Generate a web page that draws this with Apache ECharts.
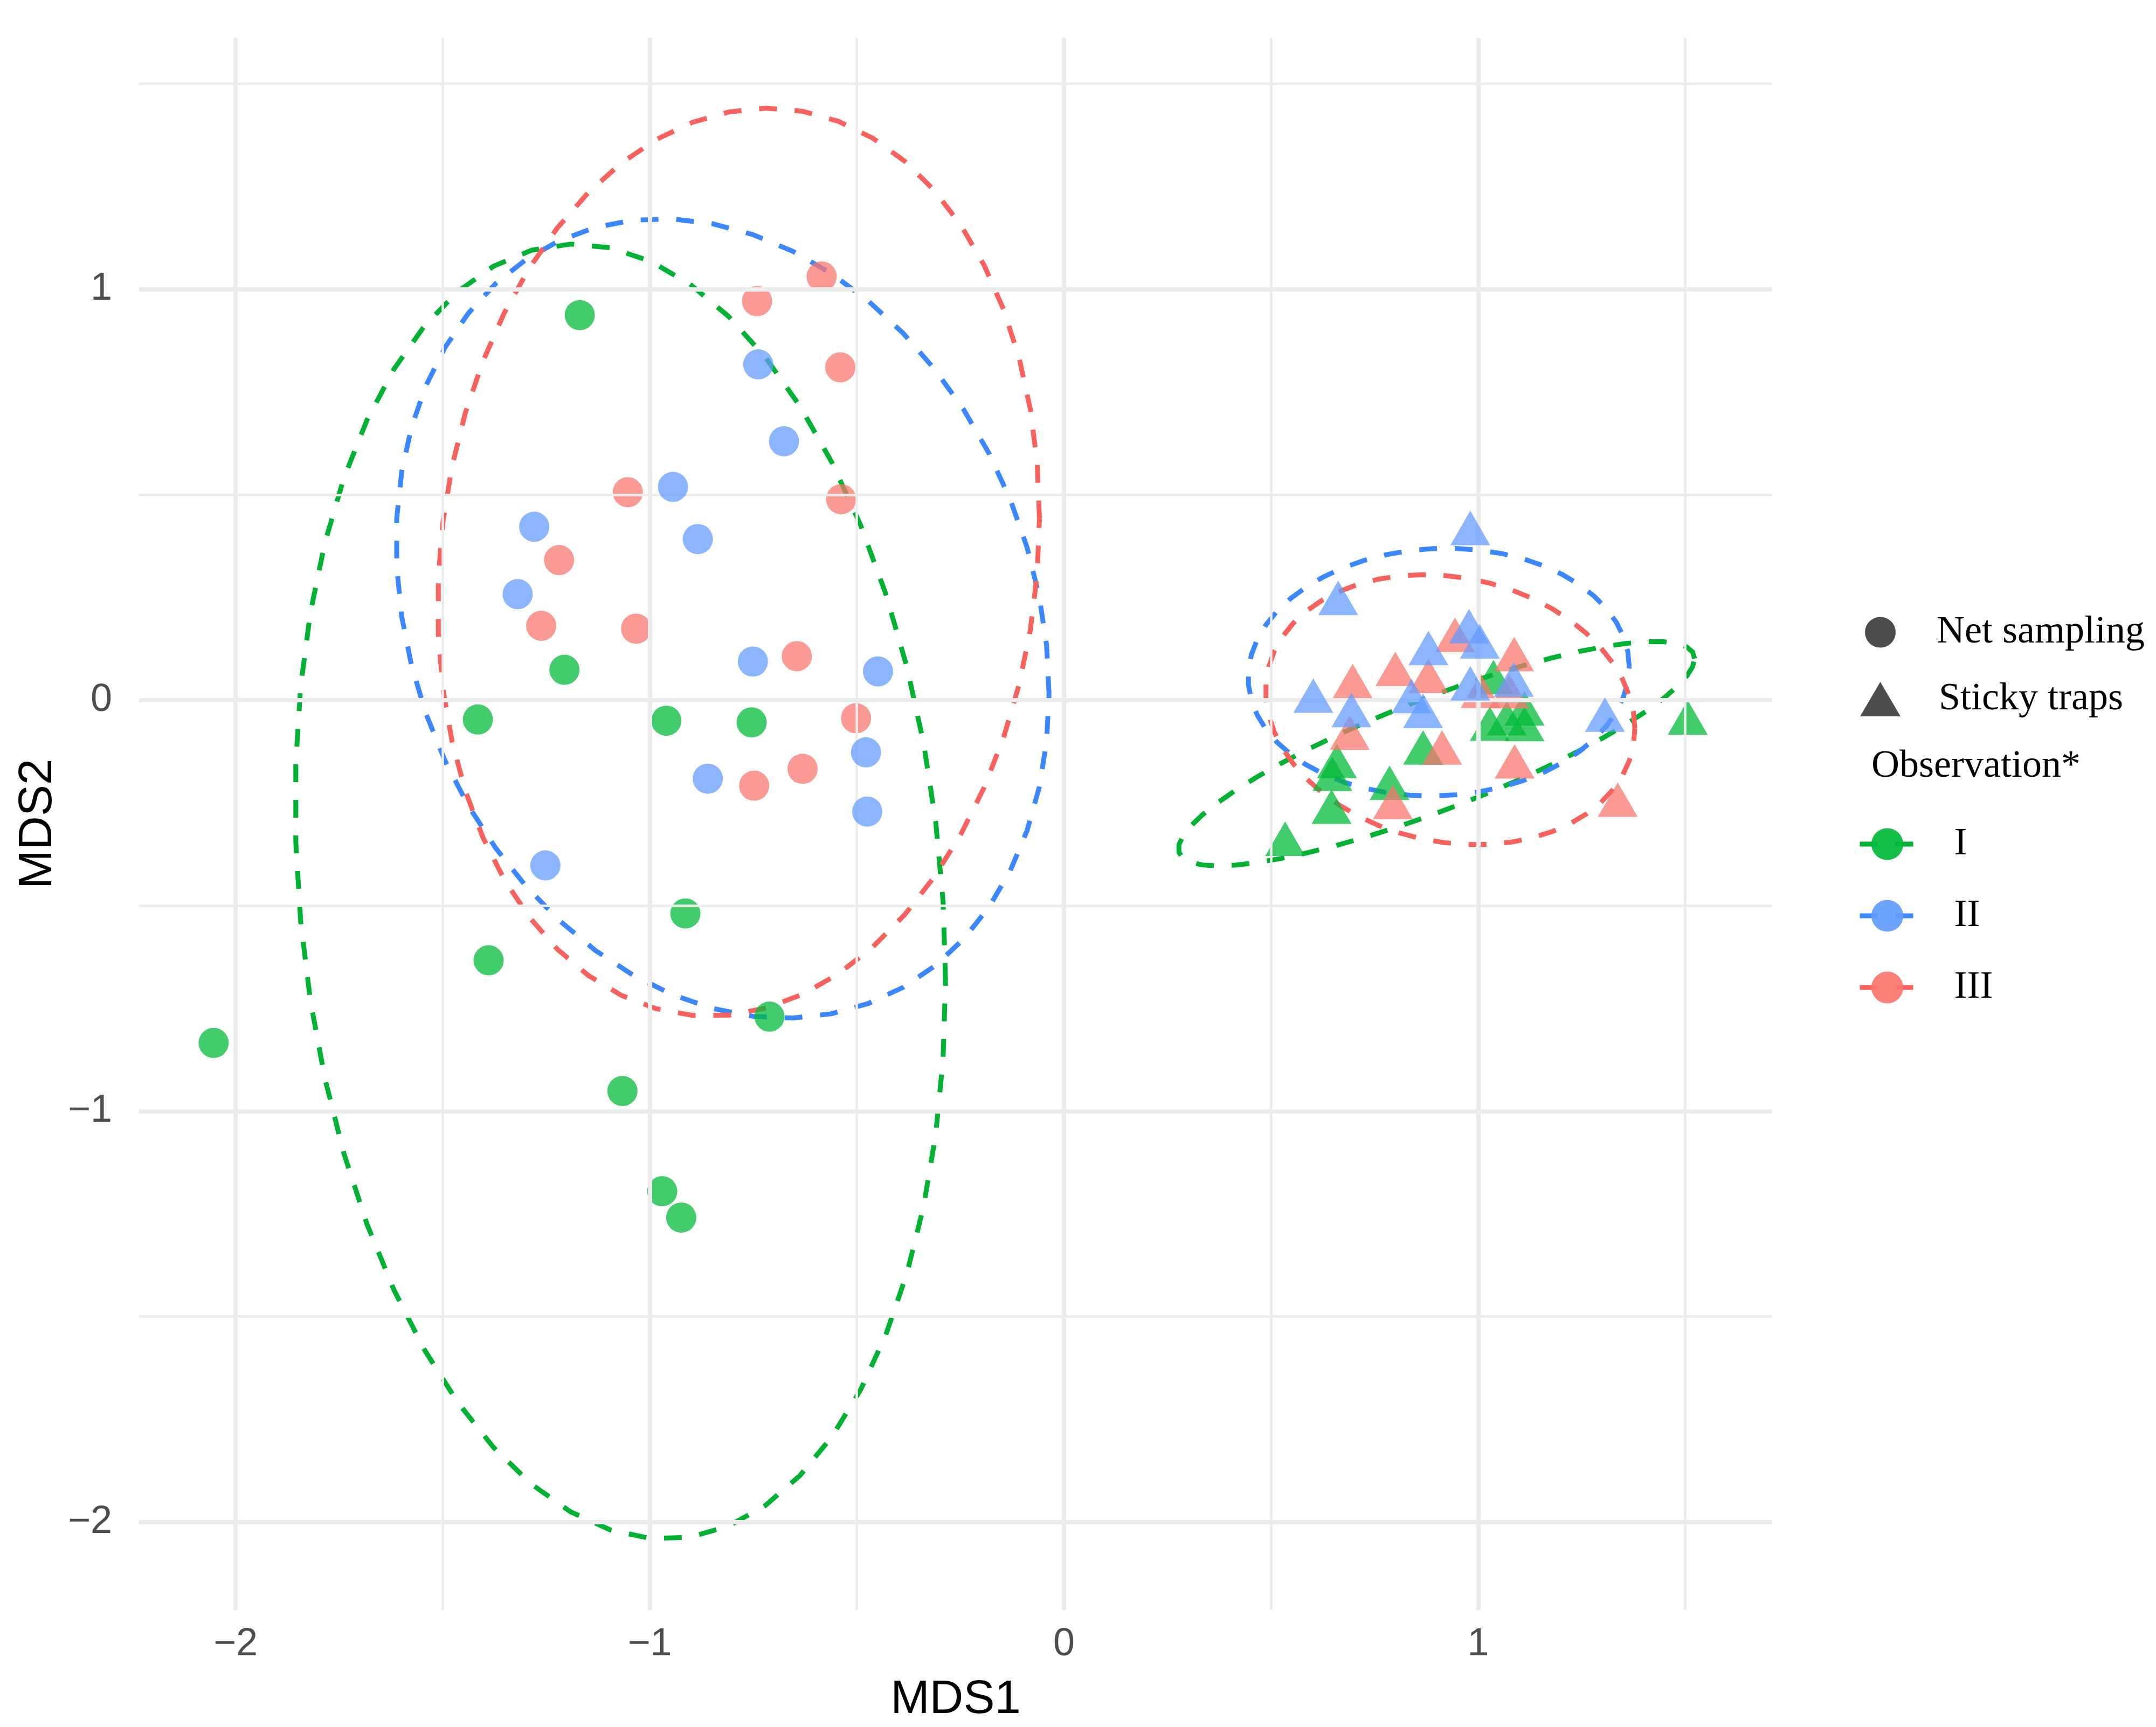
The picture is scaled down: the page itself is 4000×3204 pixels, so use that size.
<!DOCTYPE html>
<html lang="en">
<head>
    <meta charset="UTF-8">
    <title>NMDS – net sampling vs sticky traps</title>
    <script src="https://cdn.jsdelivr.net/npm/echarts@6/dist/echarts.min.js"></script>
    <style>
        html, body { margin: 0; padding: 0; background: #fff; }
        #nmds-chart { width: 4000px; height: 3204px; }
    </style>
</head>
<body>
    <div id="nmds-chart"></div>

    <script>
        // NMDS scores (MDS1, MDS2)
        const netI = [[-1.169, 0.937], [-1.206, 0.074], [-1.415, -0.047], [-0.960, -0.050], [-0.754, -0.054], [-0.914, -0.519],
                      [-1.389, -0.633], [-0.711, -0.770], [-2.053, -0.834], [-1.066, -0.951], [-0.970, -1.195], [-0.924, -1.259]];
        const netII = [[-0.738, 0.817], [-0.676, 0.630], [-0.944, 0.519], [-1.279, 0.422], [-0.884, 0.392], [-1.319, 0.258],
                       [-0.751, 0.094], [-0.449, 0.070], [-0.478, -0.127], [-0.860, -0.191], [-0.475, -0.271], [-1.252, -0.402]];
        const netIII = [[-0.585, 1.031], [-0.741, 0.971], [-0.540, 0.810], [-1.053, 0.506], [-0.538, 0.489], [-1.219, 0.341],
                        [-1.262, 0.181], [-1.033, 0.174], [-0.645, 0.107], [-0.502, -0.044], [-0.631, -0.167], [-0.748, -0.208]];
        const stickyI = [[1.037, 0.042], [1.112, -0.034], [1.069, -0.058], [1.028, -0.071], [1.112, -0.072], [1.506, -0.056],
                         [0.867, -0.129], [0.659, -0.162], [0.648, -0.193], [0.786, -0.215], [0.646, -0.273], [0.534, -0.351]];
        const stickyII = [[0.662, 0.235], [0.981, 0.405], [0.978, 0.166], [1.004, 0.129], [0.880, 0.113], [0.602, -0.003],
                          [0.981, 0.027], [1.086, 0.036], [0.839, -0.004], [0.694, -0.038], [0.867, -0.040], [1.306, -0.049]];
        const stickyIII = [[0.944, 0.145], [1.087, 0.098], [0.800, 0.062], [0.880, 0.045], [0.697, 0.033], [1.006, 0.009],
                           [1.075, 0.008], [0.690, -0.093], [0.913, -0.129], [1.088, -0.163], [1.337, -0.256], [0.794, -0.262]];

        const groups = ['I', 'II', 'III'];
        const methods = ['Net sampling', 'Sticky traps'];

        const xTicks = [-2, -1, 0, 1];
        const yTicks = [-2, -1, 0, 1];
        const xMinor = [-1.5, -0.5, 0.5, 1.5];
        const yMinor = [-1.5, -0.5, 0.5, 1.5];
        const xRange = [-2.233, 1.710];
        const yRange = [-2.214, 1.612];

        const pointColor = { I: 'rgba(0,186,56,0.92)', II: 'rgba(97,156,255,0.92)', III: 'rgba(248,118,109,0.92)' };
        const lineColor = { I: '#00B232', II: '#3B87FF', III: '#F8615C' };

        const sets = {
            'Net sampling': { I: netI, II: netII, III: netIII },
            'Sticky traps': { I: stickyI, II: stickyII, III: stickyIII }
        };

        // stat_ellipse(type = "t", level = 0.95): MASS::cov.trob + chol, 51 segments
        function covTrob(pts, nu = 5, maxit = 25, tol = 0.01) {
            const n = pts.length, p = 2;
            const wmean = w => {
                const sw = w.reduce((a, b) => a + b, 0);
                return [0, 1].map(k => pts.reduce((a, d, i) => a + w[i] * d[k], 0) / sw);
            };
            let w = pts.map(() => 1);
            let loc = wmean(w);
            let X = [];
            for (let iter = 0; iter < maxit; iter++) {
                const w0 = w.slice();
                X = pts.map(d => [d[0] - loc[0], d[1] - loc[1]]);
                const sw = w.reduce((a, b) => a + b, 0);
                let a = 0, b = 0, c = 0;
                X.forEach((d, i) => {
                    const f = w[i] / sw;
                    a += f * d[0] * d[0]; b += f * d[0] * d[1]; c += f * d[1] * d[1];
                });
                const det = a * c - b * b;
                w = X.map(d => {
                    const q = (c * d[0] * d[0] - 2 * b * d[0] * d[1] + a * d[1] * d[1]) / det;
                    return (nu + p) / (nu + q);
                });
                loc = wmean(w);
                if (w.every((v, i) => Math.abs(v - w0[i]) < tol)) break;
            }
            let s11 = 0, s12 = 0, s22 = 0;
            X.forEach((d, i) => {
                s11 += w[i] * d[0] * d[0]; s12 += w[i] * d[0] * d[1]; s22 += w[i] * d[1] * d[1];
            });
            return { center: loc, cov: [s11 / n, s12 / n, s22 / n] };
        }

        function statEllipse(pts, level = 0.95, segments = 51) {
            const v = covTrob(pts);
            const r11 = Math.sqrt(v.cov[0]);
            const r12 = v.cov[1] / r11;
            const r22 = Math.sqrt(v.cov[2] - r12 * r12);
            const dfd = pts.length - 1;
            const fq = dfd / 2 * (Math.pow(1 - level, -2 / dfd) - 1);   // qf(level, 2, dfd)
            const radius = Math.sqrt(2 * fq);
            const out = [];
            for (let i = 0; i <= segments; i++) {
                const t = i * 2 * Math.PI / segments;
                const ct = Math.cos(t), st = Math.sin(t);
                out.push([v.center[0] + radius * ct * r11, v.center[1] + radius * (ct * r12 + st * r22)]);
            }
            return out;
        }

        const gridStyle = (width) => ({ color: '#EBEBEB', width: width, type: 'solid' });
        const gridLines = []
            .concat(xMinor.map(v => ({ xAxis: v, lineStyle: gridStyle(4.5) })))
            .concat(yMinor.map(v => ({ yAxis: v, lineStyle: gridStyle(4.5) })))
            .concat(xTicks.map(v => ({ xAxis: v, lineStyle: gridStyle(8) })))
            .concat(yTicks.map(v => ({ yAxis: v, lineStyle: gridStyle(8) })));

        const series = [];

        // ellipses first so that the legend icon for I / II / III is the line + point key
        groups.forEach(g => {
            methods.forEach(m => {
                series.push({
                    name: g,
                    type: 'line',
                    data: statEllipse(sets[m][g]),
                    symbol: 'none',
                    smooth: false,
                    silent: true,
                    z: 2,
                    itemStyle: { color: pointColor[g] },
                    lineStyle: { color: lineColor[g], width: 9, type: [33, 33], cap: 'butt' }
                });
            });
        });

        // points: green underneath, then red, blue on top
        ['I', 'III', 'II'].forEach((g, k) => {
            series.push({
                name: 'Net sampling',
                type: 'scatter',
                data: sets['Net sampling'][g],
                symbol: 'circle',
                symbolSize: 56,
                z: 3 + k,
                silent: true,
                itemStyle: { color: pointColor[g] }
            });
            series.push({
                name: 'Sticky traps',
                type: 'scatter',
                data: sets['Sticky traps'][g],
                symbol: 'triangle',
                symbolSize: [74, 64],
                symbolOffset: [0, -10.7],   // R's pch 17 sits on its centroid
                z: 3 + k,
                silent: true,
                itemStyle: { color: pointColor[g] }
            });
        });

        series.push({
            name: 'grid',
            type: 'line',
            data: [],
            z: 1,
            silent: true,
            markLine: {
                silent: true,
                symbol: ['none', 'none'],
                label: { show: false },
                emphasis: { disabled: true },
                lineStyle: { type: 'solid' },
                data: gridLines
            }
        });

        const minus = v => String(v).replace('-', '\u2212');
        const legendText = { fontFamily: 'Liberation Serif', fontSize: 72, color: '#000' };

        const option = {
            animation: false,
            backgroundColor: '#fff',
            title: {
                text: 'Observation*',
                left: 3472,
                top: 1386,
                padding: 0,
                textStyle: { fontFamily: 'Liberation Serif', fontSize: 72, fontWeight: 'normal', color: '#000' }
            },
            grid: { left: 258, top: 70, width: 3030, height: 2917, containLabel: false, outerBoundsMode: 'none' },
            xAxis: {
                type: 'value',
                min: xRange[0],
                max: xRange[1],
                axisLine: { show: false },
                axisTick: { show: false },
                splitLine: { show: false },
                axisLabel: {
                    customValues: xTicks, formatter: minus, margin: 28,
                    color: '#4D4D4D', fontSize: 72, fontFamily: 'Liberation Sans'
                },
                name: 'MDS1',
                nameLocation: 'middle',
                nameGap: 124,
                nameTextStyle: { fontSize: 87, color: '#000', fontFamily: 'Liberation Sans' }
            },
            yAxis: {
                type: 'value',
                min: yRange[0],
                max: yRange[1],
                axisLine: { show: false },
                axisTick: { show: false },
                splitLine: { show: false },
                axisLabel: {
                    customValues: yTicks, formatter: minus, margin: 50,
                    color: '#4D4D4D', fontSize: 72, fontFamily: 'Liberation Sans'
                },
                name: 'MDS2',
                nameLocation: 'middle',
                nameRotate: 90,
                nameGap: 118,
                nameTextStyle: { fontSize: 87, color: '#000', fontFamily: 'Liberation Sans' }
            },
            legend: [
                {
                    data: [{ name: 'Net sampling', icon: 'circle', itemStyle: { color: '#4D4D4D', opacity: 1 } }],
                    left: 3460, top: 1137, padding: 0,
                    itemWidth: 57, itemHeight: 57,
                    selectedMode: false,
                    textStyle: Object.assign({ padding: [0, 0, 0, 71] }, legendText)
                },
                {
                    data: [{ name: 'Sticky traps', icon: 'triangle', itemStyle: { color: '#4D4D4D', opacity: 1 } }],
                    left: 3451, top: 1261, padding: 0,
                    itemWidth: 75, itemHeight: 64,
                    selectedMode: false,
                    textStyle: Object.assign({ padding: [0, 0, 0, 66] }, legendText)
                },
                {
                    data: groups.map(g => ({
                        name: g,
                        itemStyle: { color: pointColor[g], borderWidth: 0 },
                        lineStyle: { color: lineColor[g], width: 9, type: [33, 33] }
                    })),
                    orient: 'vertical',
                    left: 3446, top: 1530, padding: 0,
                    itemWidth: 102, itemHeight: 74, itemGap: 61,
                    selectedMode: false,
                    textStyle: Object.assign({ padding: [0, 0, 0, 68] }, legendText)
                }
            ],
            series: series
        };

        const chart = echarts.init(document.getElementById('nmds-chart'));
        chart.setOption(option);
    </script>
</body>
</html>
